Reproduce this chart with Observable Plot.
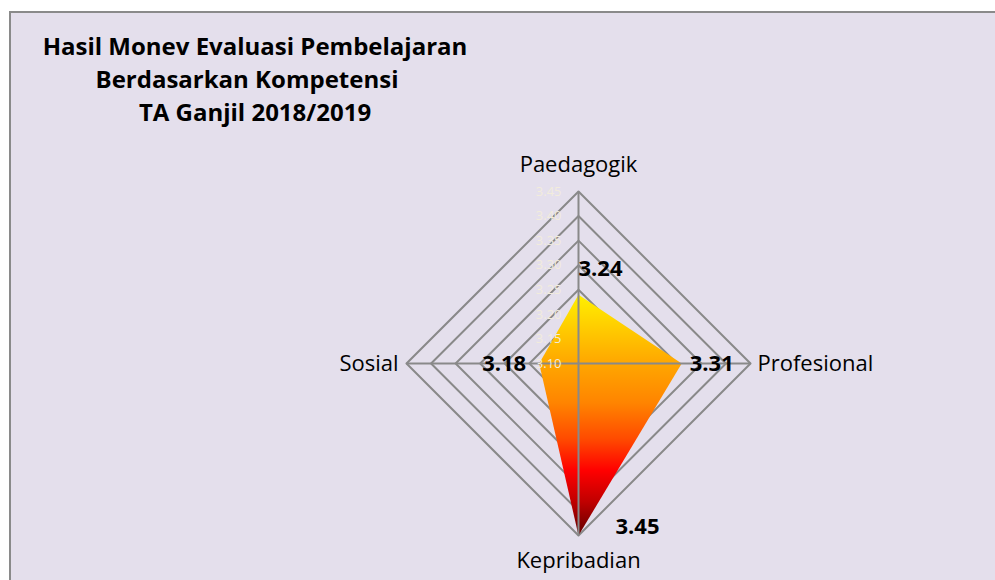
<!DOCTYPE html>
<html><head><meta charset="utf-8">
<script src="https://cdn.jsdelivr.net/npm/d3@7"></script>
<script src="https://cdn.jsdelivr.net/npm/@observablehq/plot@0.6"></script>
<style>
html,body{margin:0;padding:0;background:#fff;}
#wrap{position:relative;width:995px;height:580px;overflow:hidden;font-family:"Open Sans",sans-serif;}
#bg{position:absolute;left:9px;top:11px;width:1000px;height:600px;background:#E4DFEC;border:2px solid #8a8a8a;box-sizing:border-box;}
#title{position:absolute;left:0px;top:29px;width:510px;text-align:center;font-weight:bold;font-size:24px;line-height:33px;color:#000;}
#title div:nth-child(2){position:relative;left:-8px;}
#chart{position:absolute;left:0;top:0;}
</style></head>
<body>
<div id="wrap"><div id="bg"></div><div id="title"></div><div id="chart"></div></div>
<script>
const titleLines = ["Hasil Monev Evaluasi Pembelajaran", "Berdasarkan Kompetensi", "TA Ganjil 2018/2019"];
const categories = ["Paedagogik", "Profesional", "Kepribadian", "Sosial"];
const values = [3.24, 3.31, 3.45, 3.18];
const tickValues = [3.10, 3.15, 3.20, 3.25, 3.30, 3.35, 3.40, 3.45];

const titleEl = document.getElementById("title");
titleLines.forEach(t => { const d = document.createElement("div"); d.textContent = t; titleEl.appendChild(d); });

const W = 995, H = 580, cx = 578, cy = 363;
const vBase = tickValues[0], vMax = tickValues[tickValues.length - 1];
const k = 172 / (vMax - vBase); // px per unit
const angle = i => (i * 2 * Math.PI) / categories.length;
const px = (i, v) => (v - vBase) * Math.sin(angle(i));
const py = (i, v) => (v - vBase) * Math.cos(angle(i));

const rings = tickValues.slice(1).flatMap(t => categories.map((c, i) => ({t, x: px(i, t), y: py(i, t)})));
const spokes = categories.map((c, i) => ({x1: 0, y1: 0, x2: px(i, vMax), y2: py(i, vMax)}));
const pts = categories.map((c, i) => ({c, v: values[i], x: px(i, values[i]), y: py(i, values[i])}));
const ticksData = tickValues.map(t => ({t, x: 0, y: t - vBase}));
const labelPos = categories.map((c, i) => ({c, x: px(i, vMax), y: py(i, vMax)}));
const valueOffsets = [[22, -26], [30, 0], [59, -9], [-35, 0]];
const labelOffsets = [[0, -27], [7, 0], [0, 25], [-8, 0]];
const labelAnchors = ["middle", "start", "middle", "end"];
const FONT = "'Open Sans', sans-serif";

const plot = Plot.plot({
  width: W, height: H,
  margin: 0,
  style: {background: "transparent", overflow: "visible"},
  x: {domain: [-cx / k, (W - cx) / k], axis: null},
  y: {domain: [-(H - cy) / k, cy / k], axis: null},
  marks: [
    Plot.line(rings, {x: "x", y: "y", z: "t", curve: "linear-closed", stroke: "#898989", strokeWidth: 2}),
    Plot.line(pts, {x: "x", y: "y", curve: "linear-closed", fill: "url(#fireGrad)", stroke: "none"}),
    Plot.link(spokes, {x1: "x1", y1: "y1", x2: "x2", y2: "y2", stroke: "#898989", strokeWidth: 2}),
    Plot.text(ticksData, {x: "x", y: "y", text: d => d.t.toFixed(2), dx: -17, textAnchor: "end", fill: "#F2ECDC", fontSize: 13, fontFamily: FONT}),
    ...labelPos.map((d, i) => Plot.text([d], {x: "x", y: "y", text: "c", dx: labelOffsets[i][0], dy: labelOffsets[i][1], textAnchor: labelAnchors[i], fontSize: 22, fontFamily: FONT, fill: "#000"})),
    ...pts.map((d, i) => Plot.text([d], {x: "x", y: "y", text: d => d.v.toFixed(2), dx: valueOffsets[i][0], dy: valueOffsets[i][1], fontSize: 22, fontWeight: "bold", fontFamily: FONT, fill: "#000"}))
  ]
});

const ns = "http://www.w3.org/2000/svg";
const defs = document.createElementNS(ns, "defs");
defs.innerHTML = `<linearGradient id="fireGrad" x1="0" y1="0" x2="0" y2="1">
  <stop offset="0" stop-color="#FFF000"/>
  <stop offset="0.27" stop-color="#FFAA00"/>
  <stop offset="0.45" stop-color="#FF8400"/>
  <stop offset="0.6" stop-color="#FF4A00"/>
  <stop offset="0.73" stop-color="#FF0000"/>
  <stop offset="0.86" stop-color="#C00000"/>
  <stop offset="1" stop-color="#600000"/>
</linearGradient>`;
plot.insertBefore(defs, plot.firstChild);
document.getElementById("chart").appendChild(plot);
</script>
</body></html>
